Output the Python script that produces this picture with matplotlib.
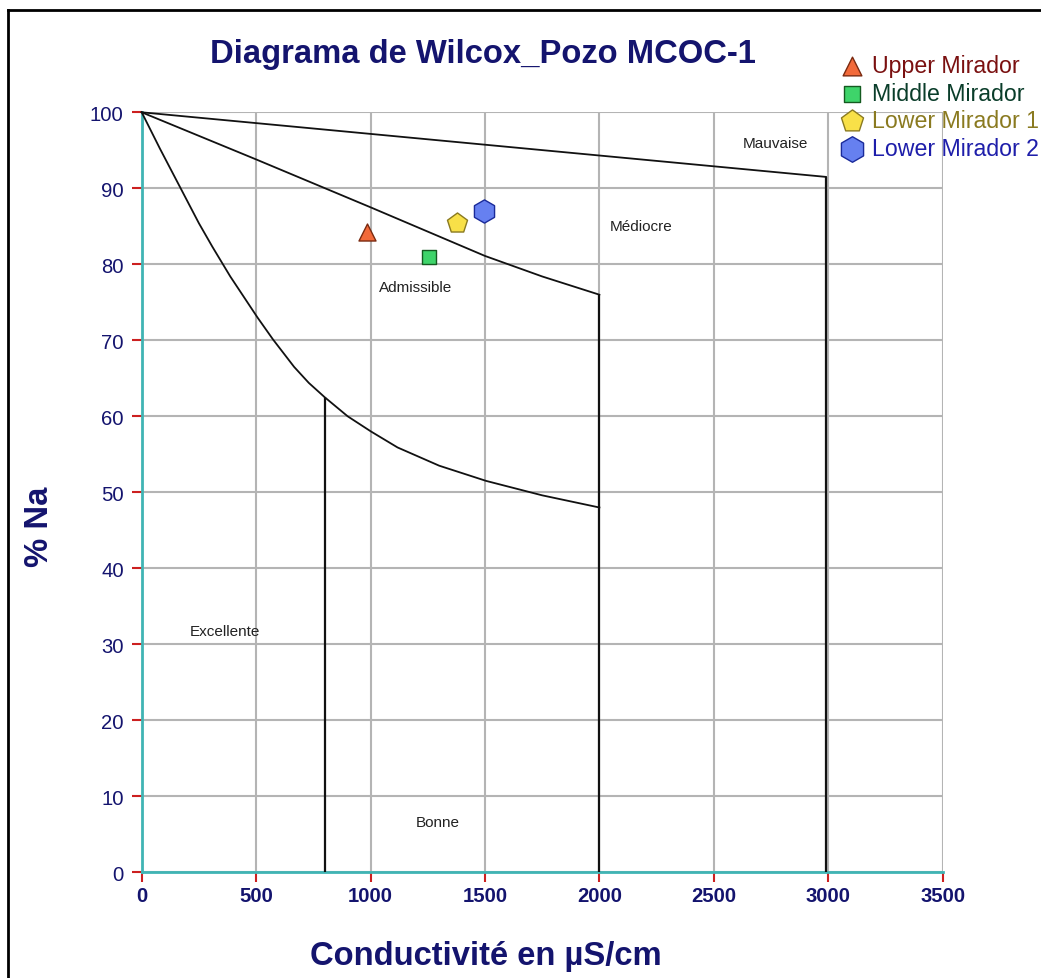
import matplotlib
matplotlib.use("Agg")
import matplotlib.pyplot as plt
from matplotlib.lines import Line2D

plt.rcParams['font.family'] = ['Liberation Sans', 'DejaVu Sans']

# Boundary curves of the Wilcox diagram
mauvaise_x = [0, 2990]
mauvaise_y = [100, 91.5]
mediocre_x = [0, 500, 1000, 1250, 1500, 1750, 2000]
mediocre_y = [100, 93.8, 87.5, 84.3, 81.1, 78.4, 76.0]
excellente_x = [0, 80, 165, 250, 309, 387, 506, 574, 666, 730, 800, 900, 1002, 1118, 1300, 1505, 1750, 2000]
excellente_y = [100, 95.2, 90.3, 85.4, 82.3, 78.4, 73.0, 70.1, 66.5, 64.4, 62.5, 60.0, 58.0, 55.9, 53.5, 51.5, 49.6, 48.0]
vlines_x = [800, 2000, 2990]
vlines_top = [62.5, 76.0, 91.5]

# Region labels
zone_names = ["Mauvaise", "Médiocre", "Admissible", "Excellente", "Bonne"]
zone_x = [2767, 2181, 1197, 365, 1295]
zone_y = [95.9, 85.0, 77.0, 31.7, 6.6]

# Samples
sample_names = ["Upper Mirador", "Middle Mirador", "Lower Mirador 1", "Lower Mirador 2"]
sample_x = [986, 1255, 1379, 1494]
sample_y = [84.2, 80.9, 85.4, 87.0]
sample_markers = ["^", "s", "p", "h"]
sample_face = ["#f26a3a", "#3ed46a", "#f8e048", "#6680f0"]
sample_edge = ["#7a2a10", "#145a20", "#8a7a20", "#1a2a9a"]
sample_text = ["#7a1010", "#0a3d2a", "#8a7a20", "#1e1eaa"]
sample_size = [150, 110, 230, 280]

x_ticks = [0, 500, 1000, 1500, 2000, 2500, 3000, 3500]
y_ticks = [0, 10, 20, 30, 40, 50, 60, 70, 80, 90, 100]

navy = "#14146e"

fig = plt.figure(figsize=(10.41, 9.79), dpi=100)
ax = fig.add_axes([141.7/1041, 1-873.3/979, (942.7-141.7)/1041, (873.3-113.3)/979])
ax.set_xlim(0, 3500)
ax.set_ylim(0, 100)
ax.set_xticks(x_ticks)
ax.set_yticks(y_ticks)
ax.grid(True, color="#b4b4b4", linewidth=1.5, zorder=0)
ax.set_axisbelow(True)
for s in ["top", "right"]:
    ax.spines[s].set_visible(False)
for s in ["left", "bottom"]:
    ax.spines[s].set_color("#40b4b4")
    ax.spines[s].set_linewidth(2)
ax.tick_params(axis="both", colors="#cc2020", length=7, width=1.5)
ax.tick_params(axis="y", labelcolor=navy, labelsize=14.6, pad=6)
ax.tick_params(axis="x", labelcolor=navy, labelsize=14.6, pad=3)
for lbl in ax.get_xticklabels():
    lbl.set_fontweight("bold")

lc = "#111111"
ax.plot(mauvaise_x, mauvaise_y, color=lc, lw=1.3, zorder=3, clip_on=False)
ax.plot(mediocre_x, mediocre_y, color=lc, lw=1.3, zorder=3, clip_on=False)
ax.plot(excellente_x, excellente_y, color=lc, lw=1.3, zorder=3, clip_on=False)
ax.vlines(vlines_x, 0, vlines_top, color=lc, lw=1.6, zorder=3)

for n, x, y in zip(zone_names, zone_x, zone_y):
    ax.text(x, y, n, fontsize=11, color="#222222", ha="center", va="center", zorder=4)

handles = []
for i in range(len(sample_names)):
    h = ax.scatter([sample_x[i]], [sample_y[i]], marker=sample_markers[i], s=sample_size[i],
                   c=sample_face[i], edgecolors=sample_edge[i], linewidths=1.0, zorder=5,
                   label=sample_names[i])
    handles.append(h)

leg = fig.legend(handles=handles, loc="upper left", bbox_to_anchor=(840/1041, 1-55/979),
                 frameon=False, fontsize=16.7, labelcolor=sample_text, handletextpad=0.4,
                 labelspacing=0.2, borderaxespad=0, handlelength=1.0, borderpad=0,
                 markerscale=1.1)

fig.text(483/1041, 1-55/979, "Diagrama de Wilcox_Pozo MCOC-1", fontsize=23.6, fontweight="bold",
         color=navy, ha="center", va="center")
fig.text(486/1041, 1-957/979, "Conductivité en µS/cm", fontsize=23.6, fontweight="bold",
         color=navy, ha="center", va="center")
fig.text(40/1041, 1-527/979, "% Na", fontsize=23.6, fontweight="bold", color=navy,
         ha="center", va="center", rotation=90)

# outer frame
fig.add_artist(Line2D([8/1041, 8/1041], [0, 1-11/979], color="black", lw=2, transform=fig.transFigure))
fig.add_artist(Line2D([8/1041, 1], [1-11/979, 1-11/979], color="black", lw=2, transform=fig.transFigure))

fig.savefig("out.png", dpi=100)
